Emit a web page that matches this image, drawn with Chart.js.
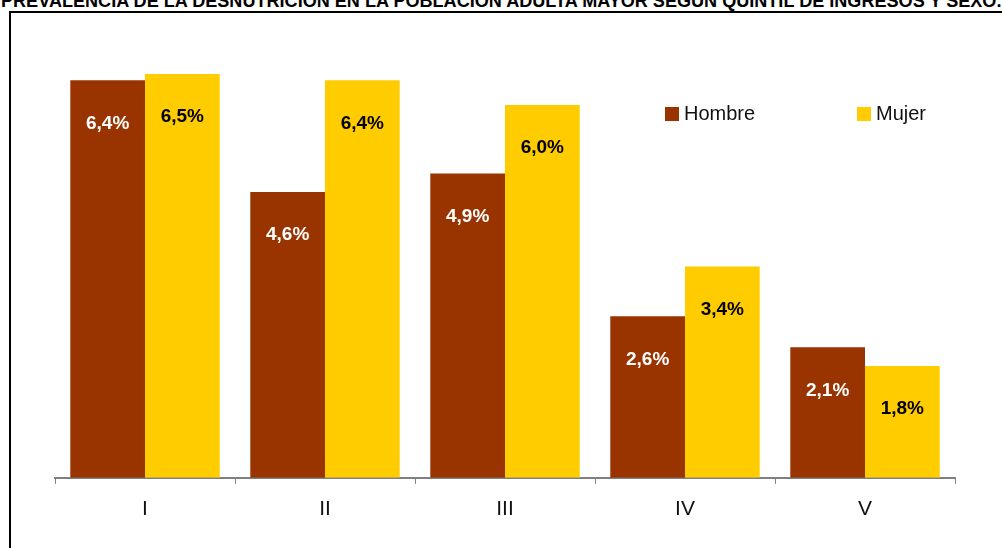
<!DOCTYPE html>
<html>
<head>
<meta charset="utf-8">
<script src="https://cdn.jsdelivr.net/npm/chart.js@4.4.1/dist/chart.umd.min.js"></script>
<style>
  html, body { margin: 0; padding: 0; background: #fff; }
  body { width: 1002px; height: 548px; position: relative; overflow: hidden; font-family: Arial, "Liberation Sans", sans-serif; }
  #title { position: absolute; left: 1px; top: -10px; white-space: nowrap; font-family: "Liberation Sans Narrow", "Arial Narrow", Arial, sans-serif; font-weight: bold; font-size: 19px; color: #000; transform-origin: 0 0; }
  #frame { position: absolute; left: 9px; top: 11px; width: 1100px; height: 600px; border: 2px solid #000; box-sizing: border-box; }
  #wrap { position: absolute; left: 0; top: 0; width: 1002px; height: 548px; }
  .leg { position: absolute; top: 102px; font-size: 20px; color: #111; }
  .leg span { display: inline-block; width: 14px; height: 14px; margin-right: 5px; vertical-align: -1px; }
</style>
</head>
<body>
<div id="title">PREVALENCIA  DE LA DESNUTRICIÓN EN LA POBLACIÓN ADULTA MAYOR SEGÚN QUINTIL DE INGRESOS Y SEXO.</div>
<div id="frame"></div>
<div id="wrap"><canvas id="myChart" width="1002" height="548"></canvas></div>
<div class="leg" style="left:665px"><span style="background:#993300"></span>Hombre</div>
<div class="leg" style="left:857px"><span style="background:#ffcc00"></span>Mujer</div>
<script>
const quintiles = ['I', 'II', 'III', 'IV', 'V']
const hombre = [6.4, 4.6, 4.9, 2.6, 2.1]
const mujer = [6.5, 6.4, 6.0, 3.4, 1.8]

// stretch the title so it runs across the whole page like in the original
const title = document.getElementById('title')
title.style.transform = 'scaleX(' + (1000 / title.offsetWidth) + ')'

// labels drawn inside the bars, a bit below the top
const barLabels = {
    id: 'barLabels',
    afterDatasetsDraw(chart) {
        const ctx = chart.ctx
        ctx.save()
        ctx.font = 'bold 19px Arial, "Liberation Sans", sans-serif'
        ctx.textAlign = 'center'
        ctx.textBaseline = 'middle'
        chart.data.datasets.forEach((ds, i) => {
            chart.getDatasetMeta(i).data.forEach((bar, j) => {
                ctx.fillStyle = i === 0 ? '#ffffff' : '#000000'
                const txt = ds.data[j].toFixed(1).replace('.', ',') + '%'
                ctx.fillText(txt, bar.x, bar.y + 43)
            })
        })
        ctx.restore()
    }
}

const ctx = document.getElementById('myChart').getContext('2d')
const chart = new Chart(ctx, {
    type: 'bar',
    data: {
        labels: quintiles,
        datasets: [
            { label: 'Hombre', data: hombre, backgroundColor: '#993300' },
            { label: 'Mujer', data: mujer, backgroundColor: '#ffcc00' }
        ]
    },
    options: {
        responsive: false,
        animation: false,
        layout: { padding: { left: 55, right: 47, top: 43, bottom: 13 } },
        plugins: { legend: { display: false }, tooltip: { enabled: false } },
        datasets: { bar: { categoryPercentage: 0.83, barPercentage: 1 } },
        scales: {
            x: {
                grid: { offset: true, drawOnChartArea: false, color: '#808080', tickLength: 6 },
                border: { color: '#808080', width: 2 },
                ticks: { color: '#111', font: { size: 21, family: 'Arial, "Liberation Sans", sans-serif' }, padding: 13 }
            },
            y: { display: false, min: 0, max: 7 }
        }
    },
    plugins: [barLabels]
})
</script>
</body>
</html>
